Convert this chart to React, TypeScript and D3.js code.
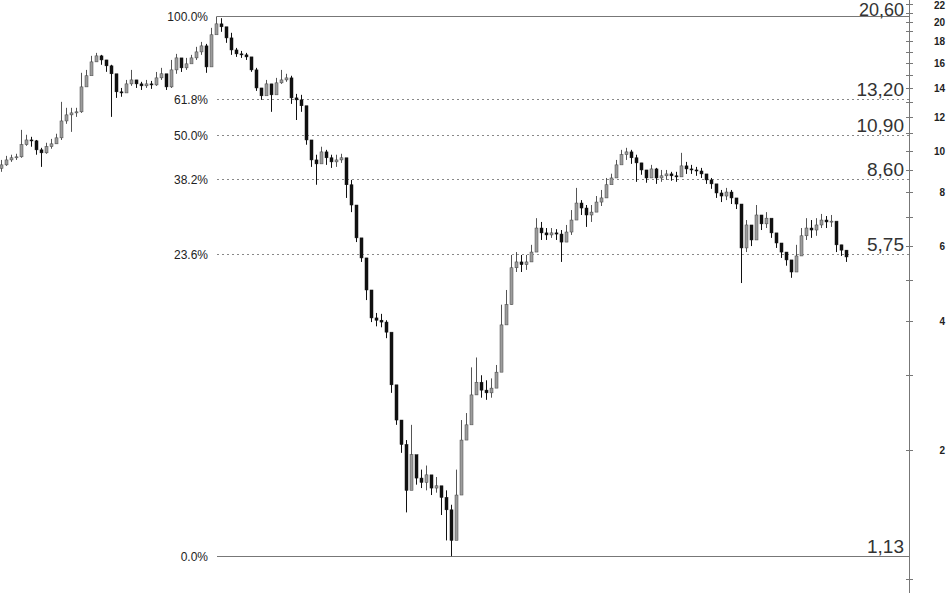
import * as d3 from 'd3'

const WIDTH = 948
const HEIGHT = 593

// daily-ish candles (price, log scale)
const FIRST_OPEN = 9.1
const closes = [
  9.27, 9.52, 9.63, 9.68, 10.33, 10.6, 10.55, 10.05, 9.89, 10.22,
  10.38, 10.72, 11.74, 12.13, 12.26, 12.33, 14.1, 14.97, 16.13, 16.66,
  16.3, 15.79, 15.13, 13.73, 13.65, 14.33, 14.64, 14.33, 14.18, 14.33,
  14.25, 14.8, 15.13, 14.1, 15.45, 16.48, 15.62, 15.96, 16.48, 17.02,
  17.58, 15.7, 18.66, 19.79, 19.48, 18.35, 17.2, 16.84, 16.75, 16.57,
  15.45, 14.02, 13.44, 14.33, 13.51, 14.41, 14.64, 14.8, 13.29, 13.15,
  12.74, 10.6, 9.52, 9.32, 9.94, 9.63, 9.42, 9.52, 9.63, 8.33,
  7.47, 6.26, 5.62, 4.73, 4.07, 4.02, 3.98, 3.77, 2.84, 2.35,
  2.06, 1.61, 1.95, 1.72, 1.68, 1.75, 1.63, 1.65, 1.55, 1.45,
  1.23, 1.57, 2.11, 2.29, 2.69, 2.88, 2.76, 2.72, 2.79, 3.04,
  3.92, 4.37, 5.33, 5.5, 5.42, 5.5, 5.8, 6.6, 6.43, 6.36,
  6.43, 6.39, 6.12, 6.46, 6.89, 7.55, 7.35, 7.08, 7.19, 7.59,
  7.76, 8.33, 8.64, 9.27, 9.79, 9.94, 9.63, 9.37, 9.02, 8.64,
  9.07, 8.64, 8.74, 8.83, 8.74, 8.69, 9.22, 9.07, 9.02, 8.97,
  8.83, 8.55, 8.37, 7.97, 7.84, 8.01, 7.76, 7.51, 5.93, 6.71,
  6.19, 7.08, 6.75, 6.96, 6.43, 6.09, 5.8, 5.56, 5.21, 5.68,
  6.33, 6.6, 6.53, 6.71, 6.89, 6.82, 6.85, 6.03, 5.86, 5.65,
]
const highs = [
  9.52, 9.73, 9.79, 9.84, 11.19, 10.9, 10.78, 10.6, 10.16, 10.44,
  10.66, 10.96, 13.01, 12.6, 12.6, 12.6, 15.21, 15.45, 16.66, 16.93,
  16.75, 16.3, 15.88, 14.8, 14.02, 14.64, 15.45, 14.64, 14.49, 14.64,
  14.56, 15.28, 15.62, 15.04, 16.3, 16.84, 16.13, 16.48, 16.75, 17.49,
  17.96, 17.77, 19.37, 20.6, 20.4, 19.37, 18.86, 17.39, 17.11, 16.93,
  16.48, 15.62, 14.02, 14.64, 14.33, 14.8, 15.45, 15.13, 14.97, 13.58,
  13.51, 12.6, 10.44, 9.79, 10.22, 10.05, 9.79, 9.79, 9.84, 9.52,
  8.55, 7.27, 6.19, 5.62, 4.48, 4.18, 4.16, 4.02, 3.71, 2.76,
  2.35, 2.11, 2.29, 1.87, 1.8, 1.84, 1.72, 1.73, 1.63, 1.61,
  1.49, 1.8, 2.35, 2.44, 3.12, 3.29, 2.99, 2.91, 2.94, 3.16,
  4.37, 4.73, 5.71, 5.8, 5.71, 5.71, 6.03, 6.96, 6.82, 6.6,
  6.6, 6.56, 6.53, 6.71, 7.27, 8.19, 7.67, 7.47, 7.47, 7.84,
  8.1, 8.64, 8.84, 9.52, 10.05, 10.16, 10.05, 9.79, 9.37, 9.02,
  9.27, 9.12, 9.02, 9.02, 8.93, 8.93, 9.89, 9.42, 9.27, 9.17,
  9.12, 8.79, 8.64, 8.28, 8.1, 8.19, 8.1, 7.67, 7.47, 6.89,
  6.64, 7.47, 7.08, 7.19, 6.71, 6.36, 6.03, 5.8, 5.5, 6.03,
  6.6, 6.96, 6.89, 6.96, 7.12, 7.04, 7.08, 6.82, 6.03, 5.86,
]
const lows = [
  8.93, 9.22, 9.42, 9.52, 9.63, 10.27, 10.22, 9.79, 9.17, 9.84,
  10.11, 10.38, 10.6, 11.56, 11.07, 12.0, 12.26, 14.18, 15.13, 16.13,
  15.88, 15.29, 12.0, 13.29, 13.37, 13.73, 14.18, 14.02, 13.87, 14.02,
  13.95, 14.18, 14.64, 13.87, 14.02, 15.13, 15.28, 15.45, 16.04, 16.3,
  16.75, 15.21, 16.13, 18.86, 18.96, 17.87, 16.75, 16.57, 16.48, 16.3,
  15.29, 13.8, 13.15, 13.58, 12.33, 13.87, 14.33, 14.49, 12.87, 11.8,
  12.33, 10.33, 9.17, 8.33, 9.52, 9.27, 9.12, 9.17, 9.37, 7.76,
  7.19, 6.12, 5.5, 4.48, 3.98, 3.89, 3.87, 3.65, 2.72, 2.29,
  1.97, 1.43, 1.78, 1.66, 1.63, 1.61, 1.57, 1.59, 1.41, 1.23,
  1.13, 1.43, 1.8, 2.21, 2.39, 2.69, 2.65, 2.62, 2.65, 2.91,
  3.16, 4.07, 4.37, 5.21, 5.21, 5.27, 5.5, 5.86, 6.19, 6.19,
  6.26, 6.19, 5.5, 6.12, 6.36, 7.19, 7.08, 6.64, 6.82, 7.35,
  7.43, 7.76, 8.37, 8.93, 9.42, 9.52, 9.32, 8.46, 8.79, 8.42,
  8.74, 8.37, 8.46, 8.55, 8.51, 8.46, 8.79, 8.83, 8.83, 8.74,
  8.64, 8.37, 8.15, 7.76, 7.59, 7.67, 7.51, 7.31, 4.91, 5.8,
  5.99, 6.71, 6.53, 6.6, 6.26, 5.93, 5.62, 5.39, 5.05, 5.27,
  5.68, 6.19, 6.26, 6.33, 6.6, 6.6, 6.64, 5.8, 5.68, 5.5,
]

// Fibonacci retracement levels
const fibValues = [20.6, 13.2, 10.9, 8.6, 5.75, 1.13]
const fibPercents = ['100.0%', '61.8%', '50.0%', '38.2%', '23.6%', '0.0%']
const fibLabels = ['20,60', '13,20', '10,90', '8,60', '5,75', '1,13']

// right price axis
const axisTicks = [1, 2, 3, 4, 5, 6, 7, 8, 9, 10, 11, 12, 13, 14, 15, 16, 17, 18, 19, 20, 21, 22]
const axisLabels = [2, 4, 6, 8, 10, 12, 14, 16, 18, 20, 22]

const AXIS_X = 909
const FIB_X0 = 217

export default function App() {
  const y = d3.scaleLog().domain([0.927, 22.5]).range([HEIGHT, 0])
  const x = d3.scaleLinear().domain([0, closes.length - 1]).range([1, 846])

  const candles = closes.map((c, i) => {
    const o = i === 0 ? FIRST_OPEN : closes[i - 1]
    return { i, o, c, h: highs[i], l: lows[i], up: c >= o }
  })

  return (
    <svg
      width={WIDTH}
      height={HEIGHT}
      style={{ position: 'absolute', left: 0, top: 0, background: '#fff' }}
      fontFamily="'Liberation Sans', Arial, sans-serif"
    >
      {/* Fib levels */}
      {fibValues.map((v, k) => {
        const yy = Math.round(y(v)) + 0.5
        const solid = k === 0 || k === fibValues.length - 1
        return (
          <g key={v}>
            <line
              x1={FIB_X0}
              x2={AXIS_X}
              y1={yy}
              y2={yy}
              stroke={solid ? '#777' : '#888'}
              strokeWidth={1}
              strokeDasharray={solid ? undefined : '2,3'}
            />
            <text x={208} y={yy + 4} textAnchor="end" fontSize={12} fill="#222">
              {fibPercents[k]}
            </text>
            {/* top label is squeezed so it stays inside the frame */}
            <text
              x={904}
              y={k === 0 ? yy - 0.1 : yy - 4}
              textAnchor="end"
              fontSize={k === 0 ? 18 : 19}
              fill="#333"
            >
              {fibLabels[k]}
            </text>
          </g>
        )
      })}

      {/* Candles */}
      {candles.map((d) => {
        const cx = Math.round(x(d.i)) + 0.5
        const top = y(Math.max(d.o, d.c))
        const bot = y(Math.min(d.o, d.c))
        return (
          <g key={d.i}>
            <line x1={cx} x2={cx} y1={y(d.h)} y2={y(d.l)} stroke={d.up ? '#555' : '#111'} strokeWidth={1} />
            <rect
              x={cx - 1.5}
              y={top}
              width={3}
              height={Math.max(1, bot - top)}
              fill={d.up ? '#9c9c9c' : '#111'}
              stroke={d.up ? '#444' : '#111'}
              strokeWidth={0.5}
            />
          </g>
        )
      })}

      {/* Right axis */}
      <line x1={AXIS_X + 0.5} x2={AXIS_X + 0.5} y1={0} y2={HEIGHT} stroke="#777" />
      {axisTicks.map((t) => (
        <line
          key={t}
          x1={AXIS_X - 3}
          x2={AXIS_X + 4}
          y1={Math.round(y(t)) + 0.5}
          y2={Math.round(y(t)) + 0.5}
          stroke="#777"
        />
      ))}
      {axisLabels.map((t) => (
        <text
          key={t}
          x={945}
          y={Math.max(y(t) + 4, 9)}
          textAnchor="end"
          fontSize={10}
          fontWeight={700}
          fill="#222"
        >
          {t}
        </text>
      ))}
    </svg>
  )
}
